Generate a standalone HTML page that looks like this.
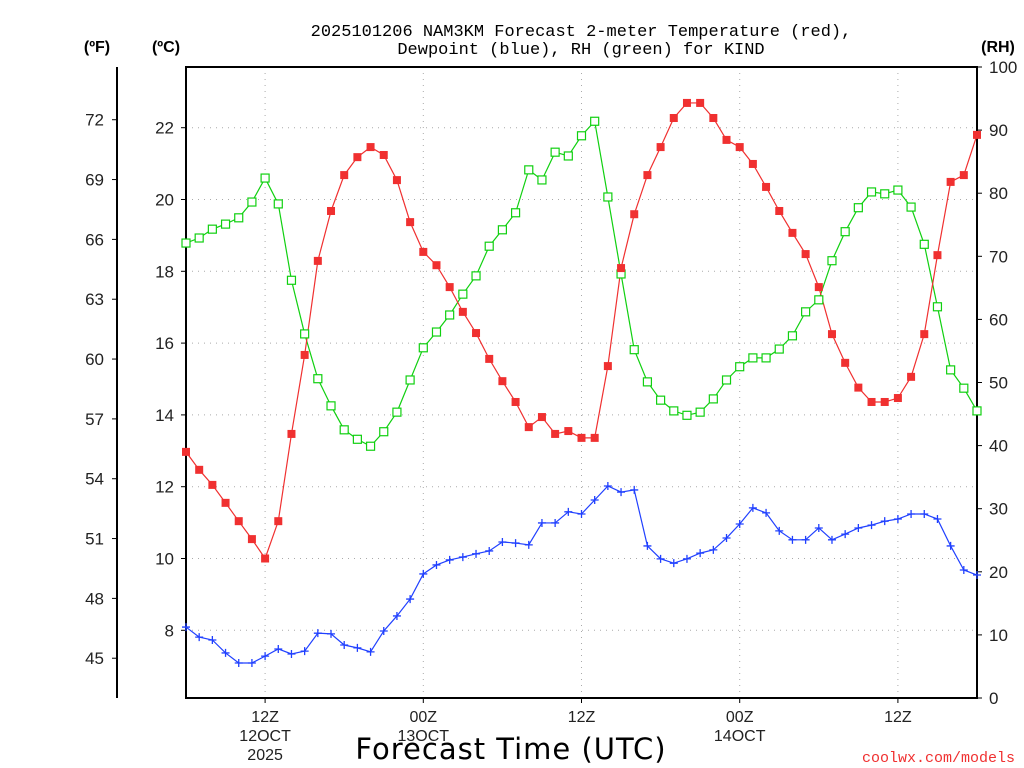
<!DOCTYPE html>
<html><head><meta charset="utf-8">
<style>
html,body{margin:0;padding:0;background:#fff;}
svg{display:block;font-family:"Liberation Sans",sans-serif;}
</style></head>
<body>
<svg id="chart" width="1024" height="768" viewBox="0 0 1024 768" xmlns="http://www.w3.org/2000/svg">
<text x="581" y="36" text-anchor="middle" font-size="17" font-family="Liberation Mono, monospace">2025101206 NAM3KM Forecast 2-meter Temperature (red),</text>
<text x="581" y="54" text-anchor="middle" font-size="17" font-family="Liberation Mono, monospace">Dewpoint (blue), RH (green) for KIND</text>
<text x="97" y="52" text-anchor="middle" font-size="16" font-weight="bold">(ºF)</text>
<text x="166" y="52" text-anchor="middle" font-size="16" font-weight="bold">(ºC)</text>
<text x="998" y="52" text-anchor="middle" font-size="16" font-weight="bold">(RH)</text>
<text x="511" y="759" text-anchor="middle" font-size="29" font-family="DejaVu Sans, sans-serif" letter-spacing="1">Forecast Time (UTC)</text>
<text x="1015" y="762" text-anchor="end" font-size="15" fill="#f03030" font-family="Liberation Mono, monospace">coolwx.com/models</text>
<g id="grid"></g><g id="axes"></g><g id="series"></g>
</svg>
<script>
const hours = 61; // hourly from 06Z 12 Oct
const tempC = [12.97,12.47,12.05,11.55,11.04,10.54,10.0,11.04,13.47,15.67,18.29,19.68,20.68,21.18,21.46,21.24,20.54,19.37,18.54,18.17,17.56,16.87,16.28,15.56,14.94,14.36,13.66,13.94,13.47,13.55,13.36,13.36,15.36,18.09,19.59,20.68,21.46,22.27,22.69,22.69,22.27,21.66,21.46,20.99,20.35,19.68,19.07,18.48,17.56,16.25,15.45,14.76,14.36,14.36,14.47,15.06,16.25,18.45,20.49,20.68,21.8];
const dewC = [8.09,7.81,7.73,7.37,7.09,7.09,7.28,7.48,7.34,7.42,7.92,7.90,7.59,7.51,7.40,7.98,8.40,8.87,9.57,9.82,9.96,10.04,10.13,10.21,10.46,10.43,10.38,10.99,10.99,11.30,11.24,11.63,12.02,11.85,11.91,10.35,9.99,9.87,9.99,10.15,10.24,10.57,10.96,11.41,11.27,10.77,10.52,10.52,10.85,10.52,10.68,10.85,10.93,11.04,11.10,11.24,11.24,11.10,10.35,9.68,9.54];
const rh = [72.1,72.9,74.3,75.1,76.1,78.6,82.4,78.3,66.2,57.7,50.6,46.3,42.5,41.0,39.9,42.2,45.3,50.4,55.5,58.0,60.7,64.0,66.9,71.6,74.2,76.9,83.7,82.1,86.5,85.9,89.1,91.4,79.4,67.2,55.2,50.1,47.2,45.5,44.8,45.3,47.4,50.4,52.5,53.9,53.9,55.3,57.4,61.2,63.1,69.3,73.9,77.7,80.2,79.9,80.5,77.8,71.9,62.0,52.0,49.1,45.5];
const cTicks = [8,10,12,14,16,18,20,22];
const fTicks = [45,48,51,54,57,60,63,66,69,72];
const rhTicks = [0,10,20,30,40,50,60,70,80,90,100];
const xTickHours = [6,18,30,42,54];
const xTickLabels = ["12Z","00Z","12Z","00Z","12Z"];
const xTickSub = ["12OCT","13OCT","","14OCT",""];
const xTickSub2 = ["2025","","","",""];

const L=186,R=977,T=67,B=698;
const xs = h => L + h*(R-L)/(hours-1);
const yC = c => 558.5 - (c-10)*35.9;
const yF = f => yC((f-32)/1.8);
const yRH = r => B - r*(B-T)/100;
const NS="http://www.w3.org/2000/svg";
function mk(tag, attrs, parent){const e=document.createElementNS(NS,tag);for(const k in attrs)e.setAttribute(k,attrs[k]);parent.appendChild(e);return e;}
const grid=document.getElementById('grid'),axes=document.getElementById('axes'),ser=document.getElementById('series');

cTicks.forEach(c=>{
  const y=yC(c);
  const g=mk('line',{x1:L,x2:R,y1:y,y2:y,stroke:'#aaa','stroke-dasharray':'1 5'},grid);
  
  
  mk('line',{x1:L-5,x2:L,y1:y,y2:y,stroke:'#000'},axes);
  const t=mk('text',{x:L-12,y:y+6,'text-anchor':'end','font-size':'17',fill:'#222'},axes);
  t.textContent=c;
  
  
});
fTicks.forEach(f=>{
  const y=yF(f);
  mk('line',{x1:112,x2:117,y1:y,y2:y,stroke:'#000'},axes);
  const t=mk('text',{x:104,y:y+6,'text-anchor':'end','font-size':'17',fill:'#222'},axes);
  t.textContent=f;
  
  
});
rhTicks.forEach(r=>{
  const y=yRH(r);
  mk('line',{x1:R,x2:R+5,y1:y,y2:y,stroke:'#000'},axes);
  const t=mk('text',{x:989,y:y+6,'text-anchor':'start','font-size':'17',fill:'#222'},axes);
  t.textContent=r;
  
  
});
xTickHours.forEach((h,i)=>{
  const x=xs(h);
  const g=mk('line',{x1:x,x2:x,y1:T,y2:B,stroke:'#aaa','stroke-dasharray':'1 5'},grid);
  
  
  mk('line',{x1:x,x2:x,y1:B,y2:B+5,stroke:'#000'},axes);
  [xTickLabels[i],xTickSub[i],xTickSub2[i]].forEach((s,j)=>{
    if(!s)return;
    const t=mk('text',{x:x,y:722+j*19,'text-anchor':'middle','font-size':'16',fill:'#222'},axes);
    t.textContent=s;
    
    
  });
});
const fl=mk('line',{x1:117,x2:117,y1:T,y2:B,stroke:'#000','stroke-width':2},axes);


const fr=mk('rect',{x:L,y:T,width:R-L,height:B-T,fill:'none',stroke:'#000','stroke-width':2},axes);



function line(vals,yf,color,name){
  const p=mk('polyline',{points:vals.map((v,i)=>xs(i)+','+yf(v)).join(' '),fill:'none',stroke:color,'stroke-width':1.2},ser);
  
  
}
line(rh,yRH,'#10d010','rh');
line(tempC,yC,'#f03030','temperature');
line(dewC,yC,'#2040ff','dewpoint');
rh.forEach((v,i)=>{
  const m=mk('rect',{x:xs(i)-4,y:yRH(v)-4,width:8,height:8,fill:'#fff',stroke:'#10d010','stroke-width':1.2},ser);
  
  
});
tempC.forEach((v,i)=>{
  const m=mk('rect',{x:xs(i)-4,y:yC(v)-4,width:8,height:8,fill:'#f03030'},ser);
  
  
});
dewC.forEach((v,i)=>{
  const x=xs(i),y=yC(v);
  const m=mk('path',{d:`M${x-4},${y}H${x+4}M${x},${y-4}V${y+4}`,stroke:'#2040ff','stroke-width':1.3},ser);
  
  
});
</script>
</body></html>
